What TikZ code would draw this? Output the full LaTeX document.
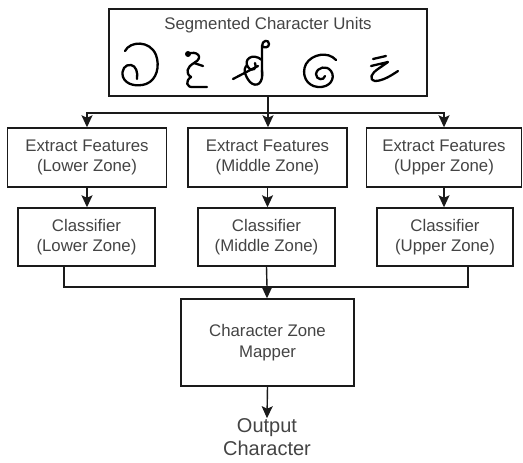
\documentclass[tikz,border=0pt]{standalone}
\usepackage{fontspec}
\setmainfont{Liberation Sans}
\usetikzlibrary{arrows.meta}
\definecolor{txt}{HTML}{444444}
\definecolor{ln}{HTML}{1a1a1a}
\begin{document}
\begin{tikzpicture}[x=1pt,y=-1pt,
  box/.style={draw=ln,line width=1.4pt,align=center,text=txt,inner sep=0pt,
    font=\fontsize{16.8}{20.5}\selectfont},
  conn/.style={draw=ln,line width=1.4pt},
  arr/.style={conn,-{Stealth[length=12pt,width=11pt,inset=2.5pt]}},
  hand/.style={draw=black,line width=2.3pt,line cap=round,line join=round}]
\useasboundingbox (0,0) rectangle (523,463);
% top box
\node[box,minimum width=318pt,minimum height=87pt] (top) at (268,52.5) {};
\node[text=txt,font=\fontsize{16.8}{20}\selectfont] (title) at (268,25) {Segmented Character Units};
% handwritten character units
\draw[hand] (125,51) .. controls (130,41) and (150,40) .. (156,55)
  .. controls (160,66) and (157,80) .. (146,84)
  .. controls (137,87) and (126,85) .. (123,77)
  .. controls (121,70) and (125,64) .. (131,65)
  .. controls (136,66) and (138,72) .. (137,79);
\fill (188,54) circle (3pt);
\draw[hand] (188,54) .. controls (196,50) and (205,57) .. (194,63)
  .. controls (187,67) and (185,73) .. (191,77)
  .. controls (185,81) and (186,88) .. (194,87) -- (207,87);
\draw[hand] (194,63) -- (203,66);
\draw[hand] (262,76) -- (262,46) .. controls (262,40) and (269,39) .. (269,44)
  .. controls (269,48) and (264,48) .. (262,46);
\draw[hand] (262,60) .. controls (252,52) and (243,60) .. (248,67)
  .. controls (252,73) and (258,68) .. (255,63);
\draw[hand] (262,70) .. controls (264,84) and (256,88) .. (250,82)
  .. controls (245,76) and (243,70) .. (246,66);
\draw[hand] (233,79) -- (258,66);
\draw[hand] (336,60) .. controls (328,51) and (312,54) .. (306,64)
  .. controls (301,74) and (306,86) .. (318,87)
  .. controls (330,88) and (336,78) .. (331,71)
  .. controls (327,65) and (317,67) .. (316,74)
  .. controls (316,80) and (324,81) .. (325,76);
\draw[hand] (373,59) -- (386,56);
\draw[hand] (371,66) -- (388,62) -- (378,69) .. controls (372,73) and (368,79) .. (375,81)
  .. controls (383,81) and (392,75) .. (398,71);
% extract features
\node[box,minimum width=159pt,minimum height=59pt] (efl) at (87,157.5) {Extract Features\\(Lower Zone)};
\node[box,minimum width=159pt,minimum height=59pt] (efm) at (267.5,157.5) {Extract Features\\(Middle Zone)};
\node[box,minimum width=155pt,minimum height=59pt] (efr) at (444,157.5) {Extract Features\\(Upper Zone)};
% classifiers
\node[box,minimum width=137pt,minimum height=58pt] (cll) at (86.5,237) {Classifier\\(Lower Zone)};
\node[box,minimum width=137pt,minimum height=58pt] (clm) at (266.5,237) {Classifier\\(Middle Zone)};
\node[box,minimum width=136pt,minimum height=58pt] (clr) at (445,237) {Classifier\\(Upper Zone)};
% mapper
\node[box,minimum width=173pt,minimum height=87pt] (map) at (267.5,342.5) {Character Zone\\Mapper};
\node[text=txt,align=center,inner sep=0pt,font=\fontsize{20}{23}\selectfont] (out) at (267,437) {Output\\Character};
% connectors
\coordinate (split) at (268,113);
\coordinate (merge) at (267,287);
\draw[conn] (top.south) -- (split);
\draw[arr] (split) -| (efl.north);
\draw[arr] (split) -- (split |- efm.north);
\draw[arr] (split) -| (efr.north);
\draw[arr] (efl) -- (efl |- cll.north);
\draw[arr] (efm) -- (efm |- clm.north);
\draw[arr] (efr) -- (efr |- clr.north);
\draw[conn] ([xshift=-22.5pt]cll.south) |- (merge);
\draw[conn] ([xshift=23pt]clr.south) |- (merge);
\draw[conn] (clm.south) -- (merge);
\draw[arr] (merge) -- (merge |- map.north);
\draw[arr] (map.south) -- (out.north);
\end{tikzpicture}
\end{document}
